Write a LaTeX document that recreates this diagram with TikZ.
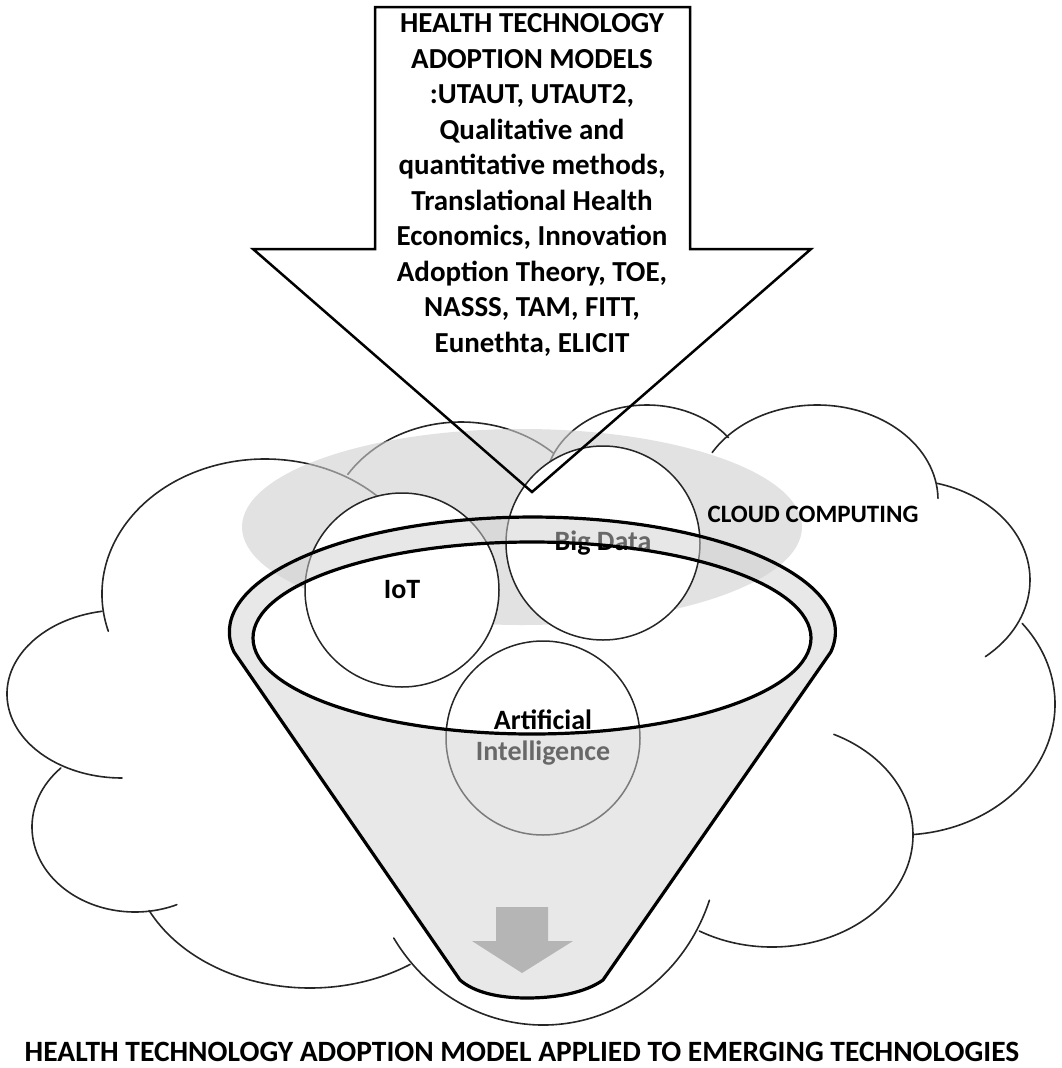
\documentclass[tikz,border=0pt]{standalone}
\usepackage{fontspec}
\setmainfont{Carlito}
\tikzset{
  lobe/.style={draw=black!85,line width=1.6pt,line cap=round},
  bubble/.style={draw=black!85,fill=white,circle,line width=1.5pt,minimum size=194pt,inner sep=0pt,align=center,font=\fontsize{28}{31}\bfseries\selectfont},
  rim/.style={draw=black,line width=3.2pt,line join=round},
  tag/.style={font=\fontsize{25}{30}\bfseries\selectfont}
}
% lobe of the cloud: start angle, end angle, x radius, y radius, centre
\newcommand{\lobearc}[6]{\draw[lobe] ([shift={(#1:#3 and #4)}]#5,#6) arc [start angle=#1,end angle=#2,x radius=#3,y radius=#4];}
\begin{document}
\begin{tikzpicture}[x=1pt,y=-1pt]
  \useasboundingbox (0,0) rectangle (1062,1068);

  % cloud outline
  \lobearc{164}{325}{163}{135}{265}{594}
  \lobearc{260}{90}{115}{84}{122}{694}
  \lobearc{224}{66}{103}{85}{135}{827}
  \lobearc{154}{56}{179}{138}{310}{850}
  \lobearc{148}{19}{176}{185}{543}{840}
  \lobearc{121}{-64}{141}{112}{772}{835}
  \lobearc{85}{-38}{155}{131}{900}{704}
  \lobearc{50}{-75}{125}{100}{905}{580}
  \lobearc{-1}{-150}{121}{95}{817}{500}
  \lobearc{-37}{-172}{102}{82}{647}{487}
  \lobearc{-47}{-147}{135}{115}{461}{537}

  % shaded ellipse
  \fill[black!19,fill opacity=.6] (522,527) ellipse [x radius=280,y radius=98];

  \node [bubble] (iot) at (402,590) {IoT};
  \node [bubble] (bigdata) at (603,543) {Big Data};
  \node [bubble] (ai) at (543,738) {Artificial\\Intelligence};

  % funnel
  \fill[black!18,fill opacity=.5,even odd rule] (234,652) arc [start angle=170,end angle=370,x radius=303,y radius=115]
    -- (603,980) .. controls (585,993) and (555,998) .. (527,998) .. controls (500,998) and (475,993) .. (460,980) -- cycle
    (532,638) ellipse [x radius=279,y radius=96];
  \draw[rim] (234,652) arc [start angle=170,end angle=370,x radius=303,y radius=115]
    -- (603,980) .. controls (585,993) and (555,998) .. (527,998) .. controls (500,998) and (475,993) .. (460,980) -- cycle;
  \draw[rim] (532,638) ellipse [x radius=279,y radius=96];

  \fill[black!29] (496,907) -- (548,907) -- (548,941) -- (573,941) -- (522,973) -- (472,941) -- (496,941) -- cycle;

  % block arrow
  \draw[line width=2.5pt,line join=miter] (375,7) -- (690,7) -- (690,249) -- (811,249) -- (532,492) -- (253,249) -- (375,249) -- cycle;
  \node [tag,align=center,font=\fontsize{29}{35.5}\bfseries\selectfont] (models) at (532,185) {HEALTH TECHNOLOGY\\ADOPTION MODELS\\:UTAUT, UTAUT2,\\Qualitative and\\quantitative methods,\\Translational Health\\Economics, Innovation\\Adoption Theory, TOE,\\NASSS, TAM, FITT,\\Eunethta, ELICIT};

  \node [tag] (cloud) at (813,514) {CLOUD COMPUTING};
  \node [tag,font=\fontsize{29.5}{32}\bfseries\selectfont] (caption) at (522,1052) {HEALTH TECHNOLOGY ADOPTION MODEL APPLIED TO EMERGING TECHNOLOGIES};
\end{tikzpicture}
\end{document}
